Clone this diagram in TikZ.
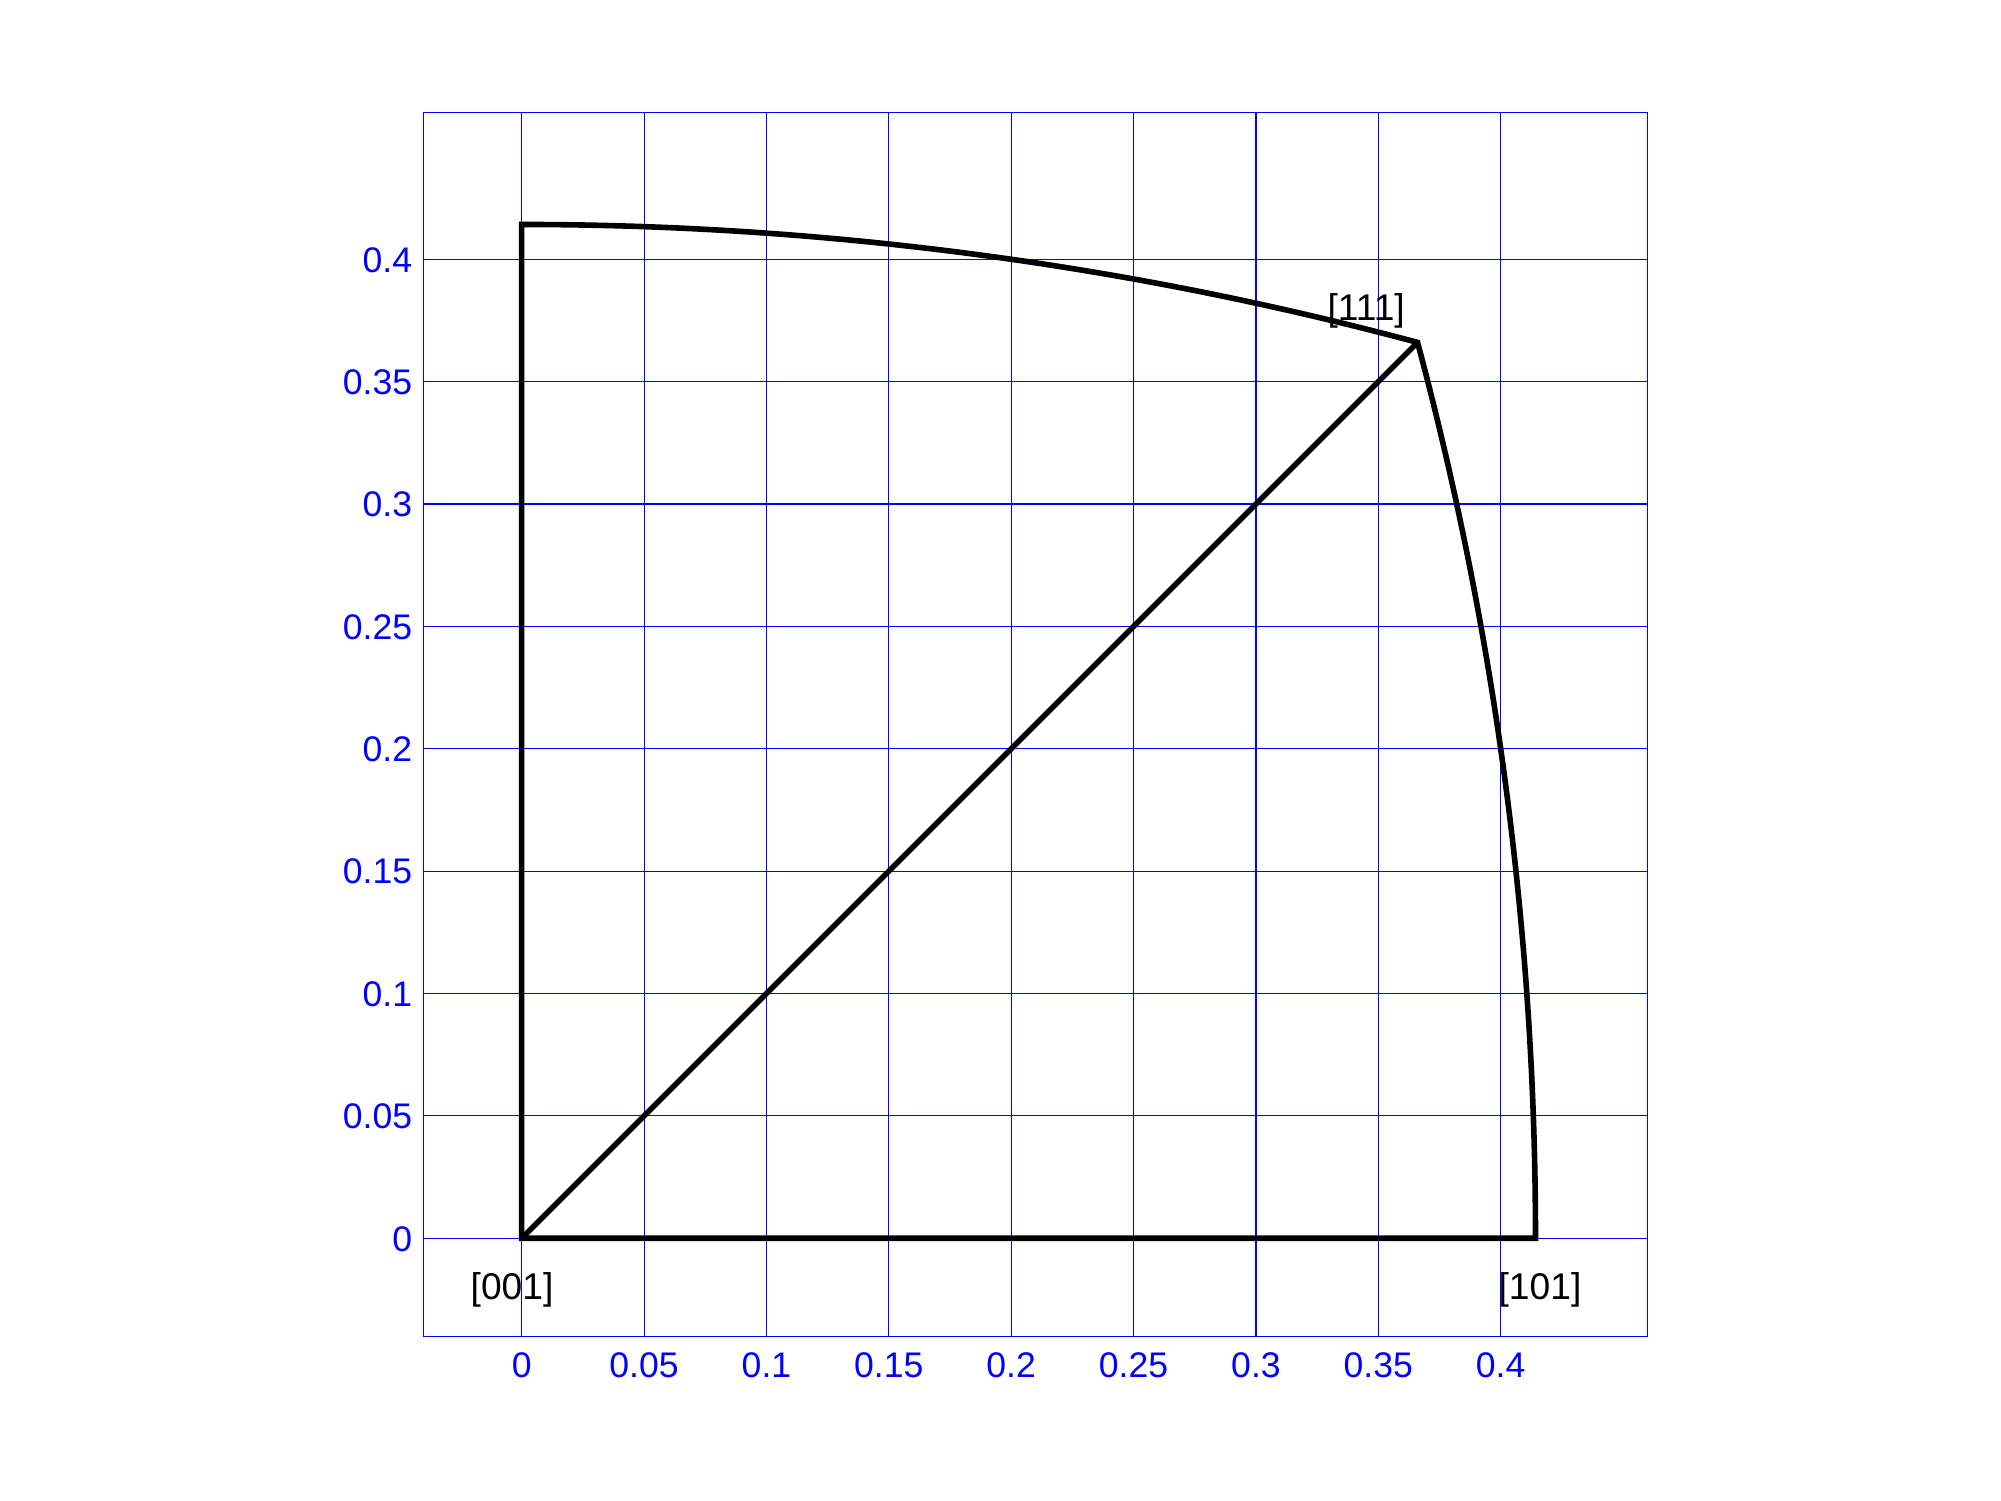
\documentclass[tikz,border=0pt]{standalone}
\usepackage{fontspec}
\setmainfont{Liberation Sans}
\begin{document}
\begin{tikzpicture}[x=1223.75pt,y=1223.75pt,
  gridline/.style={draw=blue,line width=0.55pt},
  ticklab/.style={text=blue,inner sep=0pt,font=\fontsize{17.8}{20}\selectfont},
  dirlab/.style={text=black,inner sep=0pt,anchor=base west,font=\fontsize{18.6}{20}\selectfont},
  edge/.style={draw=black,line width=2.8pt,line join=miter}]
\useasboundingbox (-0.21315,-0.10733) rectangle (0.60441,0.50594);
% grid
\foreach \v/\t [count=\i] in {0/0,0.05/0.05,0.1/0.1,0.15/0.15,0.2/0.2,0.25/0.25,0.3/0.3,0.35/0.35,0.4/0.4}{
  \path[gridline] (\v,-0.04) -- (\v,0.46);
  \path[gridline] (-0.04,\v) -- (0.46,\v);
  \node[ticklab,anchor=base] (xt\i) at (\v,-0.0570) {\t};
  \node[ticklab,anchor=base east] (yt\i) at (-0.0446,\v-0.0052) {\t};
}
\path[gridline] (-0.04,-0.04) rectangle (0.46,0.46);
% stereographic triangle
\coordinate (p001) at (0,0);
\coordinate (p011) at (0,0.414214);
\coordinate (p111) at (0.366025,0.366025);
\coordinate (p101) at (0.414214,0);
\path[edge] (p001) -- (p011)
  arc[start angle=90,end angle=75,radius=1730.66pt]
  arc[start angle=15,end angle=0,radius=1730.66pt] -- cycle;
\path[edge] (p001) -- (p111);
% labels
\node[dirlab] (l001) at (-0.0210,-0.0252) {[001]};
\node[dirlab] (l101) at (0.3990,-0.0252) {[101]};
\node[dirlab] (l111) at (0.3291,0.3750) {[111]};
\end{tikzpicture}
\end{document}
